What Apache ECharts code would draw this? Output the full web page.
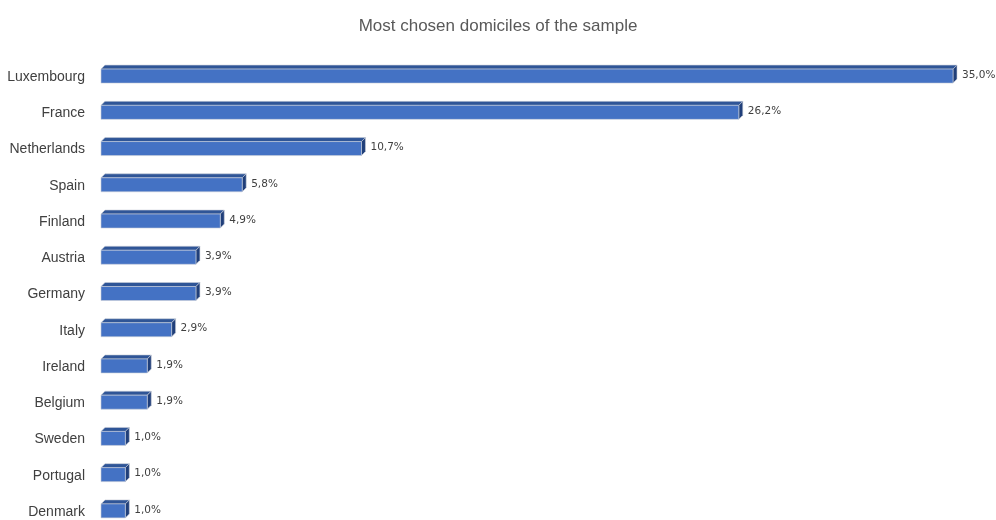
<!DOCTYPE html>
<html>
<head>
<meta charset="utf-8">
<script src="https://cdn.jsdelivr.net/npm/echarts@6/dist/echarts.min.js"></script>
<style>html,body{margin:0;padding:0;background:#fff;overflow:hidden;}#c{width:996px;height:531px;}</style>
</head>
<body>
<div id="c"></div>
<script>
const titleText = 'Most chosen domiciles of the sample';
const countries = ['Luxembourg','France','Netherlands','Spain','Finland','Austria','Germany','Italy','Ireland','Belgium','Sweden','Portugal','Denmark'];
const shares = [35.0, 26.2, 10.7, 5.8, 4.9, 3.9, 3.9, 2.9, 1.9, 1.9, 1.0, 1.0, 1.0];

const chart = echarts.init(document.getElementById('c'));
const DX = 4, DY = 4;
function fmt(v){ return v.toFixed(1).replace('.', ',') + '%'; }
chart.setOption({
  backgroundColor: '#ffffff',
  animation: false,
  title: {
    text: titleText, left: 'center', top: 13,
    textStyle: { fontFamily: 'Liberation Sans Narrow, Liberation Sans, sans-serif', fontSize: 17, fontWeight: 'normal', color: '#595959' }
  },
  grid: { left: 101, width: 852, top: 59, height: 471, containLabel: false },
  xAxis: { type: 'value', min: 0, max: 35, show: false, splitLine: { show: false } },
  yAxis: {
    type: 'category', data: countries, inverse: true,
    axisLine: { show: false }, axisTick: { show: false },
    axisLabel: { margin: 16, color: '#404040', fontSize: 14, fontFamily: 'Liberation Sans Narrow, Liberation Sans, sans-serif' }
  },
  series: [{
    type: 'custom',
    data: shares.map((v, i) => [v, i]),
    encode: { x: 0, y: 1 },
    renderItem: function (params, api) {
      const v = api.value(0), idx = api.value(1);
      const s = api.coord([0, idx]);
      const e = api.coord([v, idx]);
      const cy = s[1];
      const x0 = s[0], x1 = e[0];
      const top = cy - 8, bot = cy + 6;
      return {
        type: 'group',
        children: [
          { type: 'polygon', shape: { points: [[x0, top], [x0 + DX, top - DY], [x1 + DX, top - DY], [x1, top]] },
            style: { fill: '#2f5597', stroke: '#c9cfd9', lineWidth: 0.6 } },
          { type: 'polygon', shape: { points: [[x1, top], [x1 + DX, top - DY], [x1 + DX, bot - DY], [x1, bot]] },
            style: { fill: '#203f7a', stroke: '#c9cfd9', lineWidth: 0.6 } },
          { type: 'rect', shape: { x: x0, y: top, width: x1 - x0, height: bot - top },
            style: { fill: '#4472c4', stroke: '#c9cfd9', lineWidth: 0.6 } },
          { type: 'text', x: x1 + DX + 5, y: cy - 2,
            style: { text: fmt(v), fill: '#404040', fontSize: 10.5, fontFamily: 'DejaVu Sans, sans-serif', verticalAlign: 'middle', align: 'left' } }
        ]
      };
    }
  }]
});
</script>
</body>
</html>
